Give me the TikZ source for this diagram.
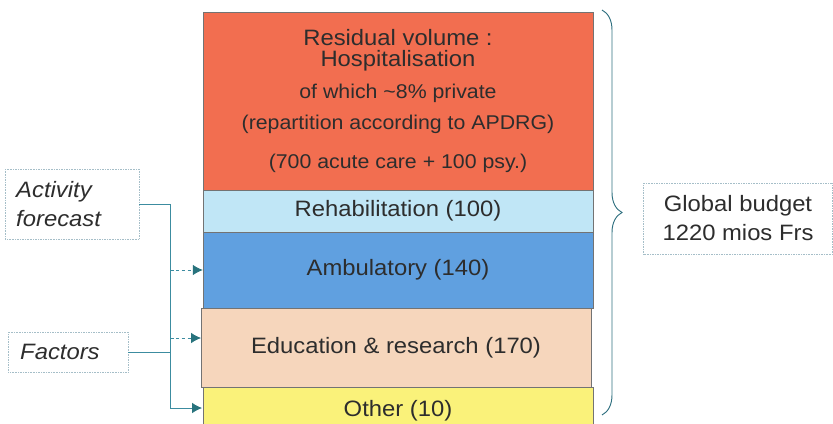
\documentclass[tikz,border=0pt]{standalone}
\usepackage{fontspec}
\setmainfont{Liberation Sans}[FakeStretch=1.07]
\usetikzlibrary{decorations.pathreplacing,arrows.meta}
\definecolor{hospred}{RGB}{242,110,80}
\definecolor{rehabblue}{RGB}{192,230,246}
\definecolor{ambublue}{RGB}{96,160,224}
\definecolor{edupeach}{RGB}{246,214,188}
\definecolor{otheryellow}{RGB}{250,242,122}
\definecolor{linkteal}{RGB}{60,140,160}
\definecolor{tipteal}{RGB}{40,115,125}
\definecolor{notegray}{RGB}{165,190,200}
\definecolor{txtgray}{RGB}{45,45,45}

\begin{document}
\begin{tikzpicture}[x=0.03cm,y=-0.03cm,
  part/.style={draw=black!55,thin,minimum width=11.7cm,text=txtgray,font=\fontsize{19}{22}\selectfont},
  note/.style={draw=notegray,densely dotted,text=txtgray},
  link/.style={draw=linkteal,line width=0.7pt},
  arrowlink/.style={link,-{Latex[length=0.3cm,width=0.32cm,color=tipteal]}}]
\useasboundingbox (0,0) rectangle (833,424);
\node[part,fill=hospred,minimum height=5.34cm,align=center,font=\fontsize{19}{18}\selectfont] (resid) at (398,101)
  {Residual volume :\\Hospitalisation\\[9pt]
   {\fontsize{17}{20}\selectfont of which \textasciitilde8\% private}\\[8.5pt]
   {\fontsize{17}{20}\selectfont (repartition according to APDRG)}\\[15pt]
   {\fontsize{17}{20}\selectfont (700 acute care + 100 psy.)}};
\node[part,fill=rehabblue,minimum height=1.26cm] (rehab) at (398,211) {Rehabilitation (100)};
\node[part,fill=ambublue,minimum height=2.28cm] (ambu) at (398,270) {Ambulatory (140)};
\node[part,fill=edupeach,minimum height=2.37cm] (edu) at (396,347.5) {Education \& research (170)};
\node[part,fill=otheryellow,minimum height=1.4cm] (other) at (398,411) {Other (10)};
\node[note,anchor=west,minimum height=2.1cm,inner xsep=0.33cm,text width=3.36cm,align=left,
  font=\fontsize{19}{24}\selectfont\itshape] (forecast) at (5,204) {Activity\\forecast};
\node[note,anchor=west,minimum height=1.2cm,inner xsep=0.36cm,text width=2.88cm,align=left,
  font=\fontsize{19}{22}\selectfont\itshape] (factors) at (8,352) {Factors};
\node[note,minimum width=5.67cm,minimum height=2.13cm,align=center,
  font=\fontsize{19}{24.7}\selectfont] (global) at (738,218.5) {Global budget\\1220 mios Frs};
\coordinate (split) at (170,204);
\coordinate (eduin) at (201,338);
\coordinate (otherin) at (202,408);
\draw[link] (forecast.east) -- (split) -- (split |- otherin);
\draw[link] (factors.east) -- (factors.east -| split);
\draw[arrowlink] (split |- otherin) -- (otherin);
\draw[arrowlink,densely dashed] (split |- ambu.west) -- (ambu.west);
\draw[arrowlink,densely dashed] (split |- eduin) -- (eduin);
\draw[draw=linkteal!80!black,line width=0.8pt,decorate,decoration={brace,amplitude=0.6cm}] (602,10) -- (602,415);
\end{tikzpicture}
\end{document}
